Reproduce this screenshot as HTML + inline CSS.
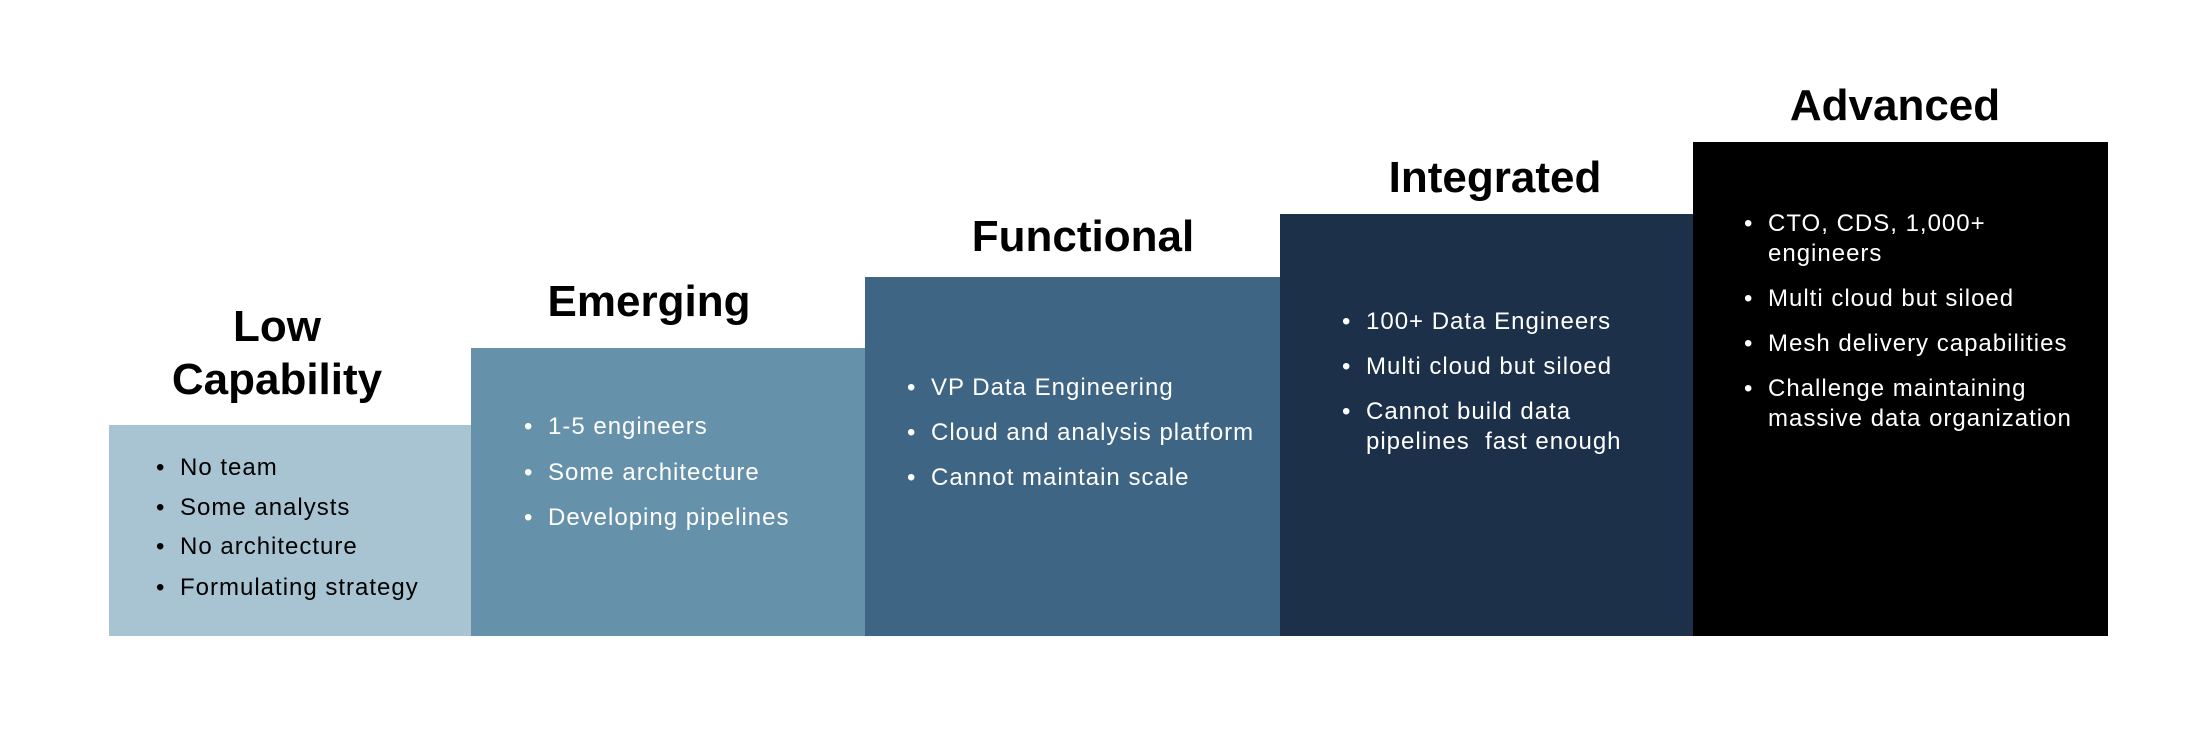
<!DOCTYPE html>
<html><head><meta charset="utf-8"><style>
body{margin:0;width:2212px;height:736px;background:#fff;position:relative;overflow:hidden;font-family:"Liberation Sans",sans-serif}
.b{position:absolute;bottom:100px}
.t{position:absolute;font-weight:bold;font-size:44px;color:#000;text-align:center;line-height:52px;white-space:nowrap;transform:translateX(-50%)}
.l{position:absolute;font-size:24px;line-height:30px;white-space:nowrap;letter-spacing:1px}
.l span{position:absolute;left:-24px}
.w{color:#fff}
</style></head><body>
<div class="b" style="left:109px;width:362px;top:425px;background:#a8c4d3"></div>
<div class="b" style="left:471px;width:394px;top:348px;background:#6691aa"></div>
<div class="b" style="left:865px;width:415px;top:277px;background:#3e6583"></div>
<div class="b" style="left:1280px;width:413px;top:214px;background:#1c3049"></div>
<div class="b" style="left:1693px;width:415px;top:142px;background:#000"></div>

<div class="t" style="left:277px;top:301px">Low</div>
<div class="t" style="left:277px;top:354px">Capability</div>
<div class="t" style="left:649px;top:276px">Emerging</div>
<div class="t" style="left:1083px;top:211px">Functional</div>
<div class="t" style="left:1495px;top:152px">Integrated</div>
<div class="t" style="left:1895px;top:80px">Advanced</div>

<div class="l" style="left:180px;top:453px"><span>•</span>No team</div>
<div class="l" style="left:180px;top:493px"><span>•</span>Some analysts</div>
<div class="l" style="left:180px;top:532px"><span>•</span>No architecture</div>
<div class="l" style="left:180px;top:573px"><span>•</span>Formulating strategy</div>

<div class="l w" style="left:548px;top:412px"><span>•</span>1-5 engineers</div>
<div class="l w" style="left:548px;top:458px"><span>•</span>Some architecture</div>
<div class="l w" style="left:548px;top:503px"><span>•</span>Developing pipelines</div>

<div class="l w" style="left:931px;top:373px"><span>•</span>VP Data Engineering</div>
<div class="l w" style="left:931px;top:418px"><span>•</span>Cloud and analysis platform</div>
<div class="l w" style="left:931px;top:463px"><span>•</span>Cannot maintain scale</div>

<div class="l w" style="left:1366px;top:307px"><span>•</span>100+ Data Engineers</div>
<div class="l w" style="left:1366px;top:352px"><span>•</span>Multi cloud but siloed</div>
<div class="l w" style="left:1366px;top:397px"><span>•</span>Cannot build data<br>pipelines&nbsp; fast enough</div>

<div class="l w" style="left:1768px;top:209px"><span>•</span>CTO, CDS, 1,000+<br>engineers</div>
<div class="l w" style="left:1768px;top:284px"><span>•</span>Multi cloud but siloed</div>
<div class="l w" style="left:1768px;top:329px"><span>•</span>Mesh delivery capabilities</div>
<div class="l w" style="left:1768px;top:374px"><span>•</span>Challenge maintaining<br>massive data organization</div>
</body></html>
